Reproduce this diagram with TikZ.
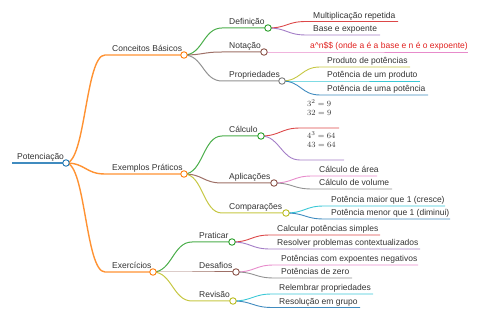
\documentclass[tikz,border=0pt]{standalone}
\usepackage{fontspec}
\setmainfont{Liberation Sans}
\pgfdeclarelayer{bg}
\pgfsetlayers{bg,main}
\definecolor{cblue}{HTML}{1F77B4}
\definecolor{corange}{HTML}{FF7F0E}
\definecolor{cgreen}{HTML}{2CA02C}
\definecolor{cred}{HTML}{D62728}
\definecolor{cpurple}{HTML}{9467BD}
\definecolor{cbrown}{HTML}{8C564B}
\definecolor{cpink}{HTML}{E377C2}
\definecolor{cgray}{HTML}{7F7F7F}
\definecolor{colive}{HTML}{BCBD22}
\definecolor{ccyan}{HTML}{17BECF}
\definecolor{txt}{HTML}{333333}
\definecolor{notered}{HTML}{E0201E}
\tikzset{
  dot/.style={circle, draw=#1, fill=white, inner sep=0pt, minimum size=6.5pt, line width=0.9pt},
  lbl/.style={anchor=base west, inner sep=0pt, text=txt, font=\fontsize{8.5}{9}\selectfont},
  wroot/.style={draw=#1, line width=1.6pt, opacity=0.85},
  wone/.style={draw=#1, line width=1.4pt, opacity=0.85},
  wtwo/.style={draw=#1, line width=1pt, opacity=0.85},
  wleaf/.style={draw=#1, line width=0.9pt, opacity=0.85},
}
\begin{document}
\begin{tikzpicture}[x=1pt,y=-1pt]
\useasboundingbox (0,0) rectangle (480,320);
% ---------- root ----------
\coordinate (sroot) at (12,163);
\node[dot=cblue] (root) at (66,163) {};
\node[lbl] (troot) at (17,160) {Potenciação};
% ---------- level 1 ----------
\coordinate (sA) at (105,55);   \node[dot=corange] (A) at (184,55) {};
\node[lbl] (tA) at (112,52) {Conceitos Básicos};
\coordinate (sB) at (105,174);  \node[dot=corange] (B) at (184,174) {};
\node[lbl] (tB) at (112,171) {Exemplos Práticos};
\coordinate (sC) at (105,272);  \node[dot=corange] (C) at (153,272) {};
\node[lbl] (tC) at (112,269) {Exercícios};
% ---------- level 2 under A ----------
\coordinate (sAD) at (222,28);  \node[dot=cgreen] (AD) at (268,28) {};
\node[lbl] (tAD) at (229,25) {Definição};
\coordinate (sAN) at (222,52);  \node[dot=cbrown] (AN) at (264,52) {};
\node[lbl] (tAN) at (229,49) {Notação};
\coordinate (sAP) at (222,81);  \node[dot=cgray] (AP) at (282,81) {};
\node[lbl] (tAP) at (229,78) {Propriedades};
% ---------- level 2 under B ----------
\coordinate (sBC) at (222,136); \node[dot=cgreen] (BC) at (261,136) {};
\node[lbl] (tBC) at (229,133) {Cálculo};
\coordinate (sBA) at (222,183); \node[dot=cbrown] (BA) at (274,183) {};
\node[lbl] (tBA) at (229,180) {Aplicações};
\coordinate (sBM) at (222,213); \node[dot=colive] (BM) at (286,213) {};
\node[lbl] (tBM) at (229,210) {Comparações};
% ---------- level 2 under C ----------
\coordinate (sCP) at (192,242); \node[dot=cgreen] (CP) at (232,242) {};
\node[lbl] (tCP) at (199,239) {Praticar};
\coordinate (sCD) at (192,272); \node[dot=cbrown] (CD) at (236,272) {};
\node[lbl] (tCD) at (199,269) {Desafios};
\coordinate (sCR) at (192,301); \node[dot=colive] (CR) at (233,301) {};
\node[lbl] (tCR) at (199,298) {Revisão};
% ---------- leaves ----------
\coordinate (sL1) at (306,21.5) ; \coordinate (eL1) at (398,21.5);
\node[lbl] (tL1) at (313,18.5) {Multiplicação repetida};
\coordinate (sL2) at (306,35) ; \coordinate (eL2) at (380,35);
\node[lbl] (tL2) at (313,32) {Base e expoente};
\coordinate (sL3) at (303,52) ; \coordinate (eL3) at (468,52);
\node[lbl, text=notered] (tL3) at (310,48.5) {a\textasciicircum n\$\$ (onde a é a base e n é o expoente)};
\coordinate (sL4) at (320,67) ; \coordinate (eL4) at (410,67);
\node[lbl] (tL4) at (327,64) {Produto de potências};
\coordinate (sL5) at (320,81) ; \coordinate (eL5) at (420,81);
\node[lbl] (tL5) at (327,78) {Potência de um produto};
\coordinate (sL6) at (320,95) ; \coordinate (eL6) at (428,95);
\node[lbl] (tL6) at (327,92) {Potência de uma potência};
\coordinate (sL7) at (300,128) ; \coordinate (eL7) at (339,128);
\node[lbl, anchor=north west, align=left] (tL7) at (307,99.5) {$3^2 = 9$\\$32 = 9$};
\coordinate (sL8) at (300,160) ; \coordinate (eL8) at (344,160);
\node[lbl, anchor=north west, align=left] (tL8) at (307,131.5) {$4^3 = 64$\\$43 = 64$};
\coordinate (sL9) at (312,176) ; \coordinate (eL9) at (377,176);
\node[lbl] (tL9) at (319,173) {Cálculo de área};
\coordinate (sL10) at (312,189) ; \coordinate (eL10) at (392,189);
\node[lbl] (tL10) at (319,186) {Cálculo de volume};
\coordinate (sL11) at (324,206) ; \coordinate (eL11) at (445,206);
\node[lbl] (tL11) at (331,203) {Potência maior que 1 (cresce)};
\coordinate (sL12) at (324,219) ; \coordinate (eL12) at (450,219);
\node[lbl] (tL12) at (331,216) {Potência menor que 1 (diminui)};
\coordinate (sL13) at (270,235) ; \coordinate (eL13) at (380,235);
\node[lbl] (tL13) at (277,232) {Calcular potências simples};
\coordinate (sL14) at (270,249) ; \coordinate (eL14) at (420,249);
\node[lbl] (tL14) at (277,246) {Resolver problemas contextualizados};
\coordinate (sL15) at (274,265) ; \coordinate (eL15) at (418,265);
\node[lbl] (tL15) at (281,262) {Potências com expoentes negativos};
\coordinate (sL16) at (274,278) ; \coordinate (eL16) at (352,278);
\node[lbl] (tL16) at (281,275) {Potências de zero};
\coordinate (sL17) at (272,294) ; \coordinate (eL17) at (373,294);
\node[lbl] (tL17) at (279,291) {Relembrar propriedades};
\coordinate (sL18) at (272,307.5) ; \coordinate (eL18) at (360,307.5);
\node[lbl] (tL18) at (279,304.5) {Resolução em grupo};
% ---------- connectors ----------
\begin{pgfonlayer}{bg}
\draw[wroot=cblue] (sroot) -- (root.center);
% level 1
\foreach \n in {A,B,C}{
  \draw[wone=corange] (root.center) .. controls +(19.5,0) and +(-19.5,0) .. (s\n) -- (\n.center);
}
% level 2
\foreach \p/\n/\c in {A/AD/cgreen, A/AN/cbrown, A/AP/cgray, B/BC/cgreen, B/BA/cbrown, B/BM/colive, C/CP/cgreen, C/CD/cbrown, C/CR/colive}{
  \draw[wtwo=\c] (\p.center) .. controls +(19,0) and +(-19,0) .. (s\n) -- (\n.center);
}
% leaves
\foreach \p/\n/\c in {AD/L1/cred, AD/L2/cpurple, AN/L3/cpink, AP/L4/colive, AP/L5/ccyan, AP/L6/cblue,
  BC/L7/cred, BC/L8/cpurple, BA/L9/cpink, BA/L10/cgray, BM/L11/ccyan, BM/L12/cblue,
  CP/L13/cred, CP/L14/cpurple, CD/L15/cpink, CD/L16/cgray, CR/L17/ccyan, CR/L18/cblue}{
  \draw[wleaf=\c] (\p.center) .. controls +(19,0) and +(-19,0) .. (s\n) -- (e\n);
}
\end{pgfonlayer}
\end{tikzpicture}
\end{document}
